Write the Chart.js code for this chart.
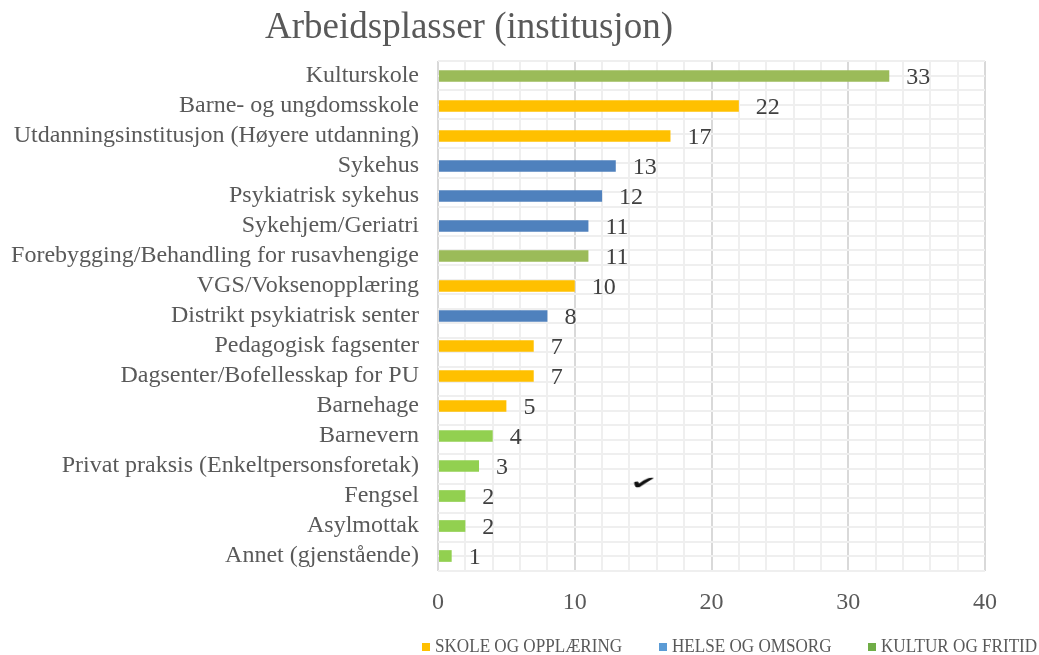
<!DOCTYPE html>
<html>
<head>
<meta charset="utf-8">
<script src="https://cdn.jsdelivr.net/npm/chart.js@4.4.1/dist/chart.umd.min.js"></script>
<style>
  body{margin:0;background:#fff;}
  .wrap{position:relative;width:1039px;height:655px;font-family:"Liberation Serif","Times New Roman",serif;}
  .title{position:absolute;left:0;top:7px;width:938px;text-align:center;font-size:37px;line-height:1;color:#595959;}
  .legend{position:absolute;left:422px;top:636px;display:flex;font-size:19px;line-height:1;color:#595959;white-space:nowrap;}
  .legend span{display:flex;align-items:center;flex:none;}
  .legend b{font-weight:normal;display:inline-block;transform:scaleX(0.9);transform-origin:left center;}
  .legend i{display:inline-block;flex:none;width:8px;height:8px;margin-right:5px;margin-top:3px;}
  .tick{position:absolute;left:630px;top:464px;font-family:"DejaVu Sans",sans-serif;font-size:32px;color:#111;transform:scale(0.95,0.6) rotate(6deg);}
</style>
</head>
<body>
<div class="wrap">
  <canvas id="myChart" width="1039" height="655"></canvas>
  <div class="title">Arbeidsplasser (institusjon)</div>
  <div class="legend" id="legend"></div>
  <div class="tick">✔</div>
</div>
<script>
const categories=["Kulturskole","Barne- og ungdomsskole","Utdanningsinstitusjon (Høyere utdanning)","Sykehus","Psykiatrisk sykehus","Sykehjem/Geriatri","Forebygging/Behandling for rusavhengige","VGS/Voksenopplæring","Distrikt psykiatrisk senter","Pedagogisk fagsenter","Dagsenter/Bofellesskap for PU","Barnehage","Barnevern","Privat praksis (Enkeltpersonsforetak)","Fengsel","Asylmottak","Annet (gjenstående)"];
const values=[33,22,17,13,12,11,11,10,8,7,7,5,4,3,2,2,1];
const sectors=["SKOLE OG OPPLÆRING","HELSE OG OMSORG","KULTUR OG FRITID"];
const xTicks=[0,10,20,30,40];

// styles
const barColors=["#9BBB59","#FFC000","#FFC000","#4F81BD","#4F81BD","#4F81BD","#9BBB59","#FFC000","#4F81BD","#FFC000","#FFC000","#FFC000","#92D050","#92D050","#92D050","#92D050","#92D050"];
const legendColors=["#FFC000","#5B9BD5","#70AD47"];
const legendWidths=[237,209,190];
const serif='"Liberation Serif","Times New Roman",serif';

document.getElementById("legend").innerHTML=sectors.map((s,i)=>
  '<span style="width:'+legendWidths[i]+'px"><i style="background:'+legendColors[i]+'"></i><b>'+s+'</b></span>').join("");

const valueLabels={
  id:"valueLabels",
  afterDatasetsDraw(chart){
    const ctx=chart.ctx;
    const meta=chart.getDatasetMeta(0);
    ctx.save();
    ctx.font="24px "+serif;
    ctx.fillStyle="#404040";
    ctx.textAlign="left";
    ctx.textBaseline="middle";
    meta.data.forEach((bar,i)=>{
      ctx.fillText(values[i],bar.x+17,bar.y+2);
    });
    ctx.restore();
  }
};

const ctx=document.getElementById("myChart").getContext("2d");
const myChart=new Chart(ctx,{
  type:"bar",
  data:{
    labels:categories,
    datasets:[{
      data:values,
      backgroundColor:barColors,
      borderWidth:0,
      categoryPercentage:1,
      barPercentage:0.39
    }]
  },
  options:{
    indexAxis:"y",
    responsive:false,
    devicePixelRatio:1,
    animation:false,
    layout:{padding:{top:61,right:54,bottom:44,left:0}},
    plugins:{legend:{display:false},tooltip:{enabled:false}},
    scales:{
      x:{
        min:0,max:40,
        border:{display:false},
        grid:{
          drawTicks:false,
          lineWidth:2,
          color:c=>xTicks.includes(c.tick.value)?"#d9d9d9":"#efefef"
        },
        ticks:{
          stepSize:2,autoSkip:false,maxRotation:0,padding:17,
          color:"#595959",font:{family:serif,size:24},
          callback:v=>xTicks.includes(v)?v:""
        },
        afterFit:s=>{s.height=40;}
      },
      y:{
        border:{display:false},
        grid:{display:false,drawTicks:false},
        ticks:{padding:19,color:"#595959",font:{family:serif,size:24},autoSkip:false},
        afterFit:s=>{s.width=438;}
      },
      yg:{
        type:"linear",position:"right",min:0,max:34,
        border:{display:false},
        grid:{drawTicks:false,lineWidth:2,color:"#efefef"},
        ticks:{display:false,stepSize:1},
        afterFit:s=>{s.width=0;}
      }
    }
  },
  plugins:[valueLabels]
});
</script>
</body>
</html>
